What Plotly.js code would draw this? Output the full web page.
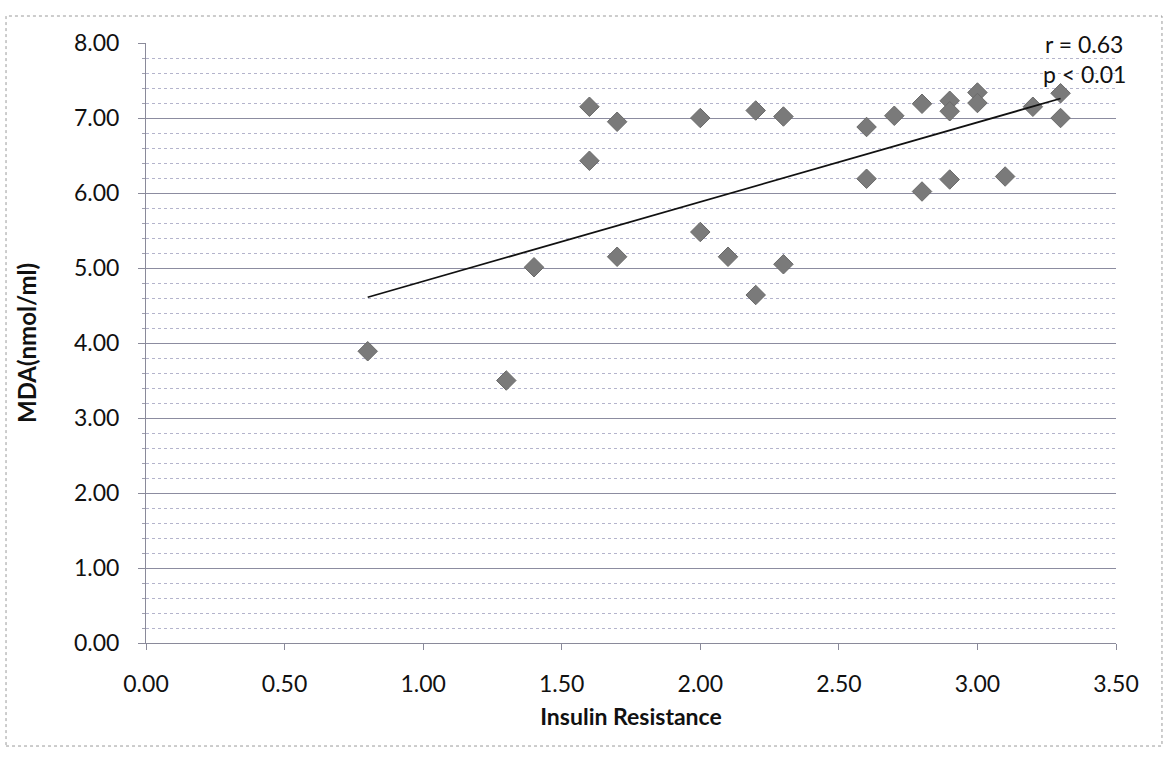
<!DOCTYPE html>
<html>
<head>
<meta charset="utf-8">
<script src="https://cdn.plot.ly/plotly-3.0.1.min.js"></script>
<style>
html,body{margin:0;padding:0;background:#fff;}
#chart{width:1166px;height:758px;}
</style>
</head>
<body>
<div id="chart"></div>
<script>
// Insulin resistance (x) vs MDA nmol/ml (y)
var insulinResistance = [0.8, 1.3, 1.4, 1.6, 1.6, 1.7, 1.7, 2.0, 2.0, 2.1, 2.2, 2.2, 2.3, 2.3,
  2.6, 2.6, 2.7, 2.8, 2.8, 2.9, 2.9, 2.9, 3.0, 3.0, 3.1, 3.2, 3.3, 3.3];
var mda = [3.89, 3.50, 5.01, 7.15, 6.43, 6.95, 5.15, 7.00, 5.48, 5.15, 7.10, 4.64, 7.02, 5.05,
  6.88, 6.19, 7.03, 7.19, 6.02, 7.23, 7.09, 6.18, 7.34, 7.20, 6.22, 7.15, 7.33, 7.00];
// Linear trendline as drawn in the picture
var trendX = [0.8, 3.3];
var trendY = [4.61, 7.26];
var xTickVals = [0, 0.5, 1, 1.5, 2, 2.5, 3, 3.5];
var xTickText = ["0.00", "0.50", "1.00", "1.50", "2.00", "2.50", "3.00", "3.50"];
var yTickVals = [0, 1, 2, 3, 4, 5, 6, 7, 8];
var yTickText = ["0.00", "1.00", "2.00", "3.00", "4.00", "5.00", "6.00", "7.00", "8.00"];
var statsText = ["r = 0.63", "p < 0.01"];

var FONT = "Lato, 'Open Sans', sans-serif";

var traces = [
  {
    x: insulinResistance, y: mda, type: "scatter", mode: "markers",
    marker: {symbol: "diamond", size: 15, color: "#7a7a7a", line: {color: "#6a6a6a", width: 1}},
    hoverinfo: "x+y", showlegend: false
  },
  {
    x: trendX, y: trendY, type: "scatter", mode: "lines",
    line: {color: "#111111", width: 1.8}, hoverinfo: "skip", showlegend: false
  }
];

var layout = {
  width: 1166, height: 758,
  margin: {l: 146, r: 50, t: 43, b: 115},
  paper_bgcolor: "#ffffff", plot_bgcolor: "#ffffff",
  font: {family: FONT, color: "#111111", size: 23},
  showlegend: false,
  xaxis: {
    range: [0, 3.5], tickvals: xTickVals, ticktext: xTickText,
    showgrid: false, zeroline: false,
    showline: true, linecolor: "#8a8a9a", linewidth: 1,
    ticks: "outside", ticklen: 6, tickcolor: "#8a8a9a",
    ticklabelstandoff: 14,
    tickfont: {family: FONT, size: 23, color: "#111111"},
    title: {text: "<b>Insulin Resistance</b>", font: {family: FONT, size: 23, color: "#111111"}, standoff: 13},
    fixedrange: true
  },
  yaxis: {
    range: [0, 8], tickvals: yTickVals, ticktext: yTickText,
    showgrid: true, gridcolor: "#8c8ca0", gridwidth: 1,
    zeroline: false,
    showline: true, linecolor: "#8a8a9a", linewidth: 1,
    ticks: "outside", ticklen: 7, tickcolor: "#8a8a9a",
    ticklabelstandoff: 14,
    minor: {dtick: 0.2, showgrid: true, gridcolor: "#b4b4cc", griddash: "dot", gridwidth: 1,
            ticks: "outside", ticklen: 3, tickcolor: "#a0a0b0"},
    tickfont: {family: FONT, size: 23, color: "#111111"},
    title: {text: "<b>MDA(nmol/ml)</b>", font: {family: FONT, size: 24, color: "#111111"}, standoff: 30},
    fixedrange: true
  },
  annotations: [
    {xref: "x", yref: "y", x: 3.385, y: 7.99, text: statsText[0], showarrow: false,
     xanchor: "center", yanchor: "middle", font: {family: FONT, size: 23, color: "#111111"}},
    {xref: "x", yref: "y", x: 3.385, y: 7.59, text: statsText[1], showarrow: false,
     xanchor: "center", yanchor: "middle", font: {family: FONT, size: 23, color: "#111111"}}
  ],
  shapes: [
    {type: "rect", xref: "paper", yref: "paper", x0: -0.1443, x1: 1.0474, y0: -0.1717, y1: 1.045,
     line: {color: "#9a9a9a", width: 1, dash: "dot"}, fillcolor: "rgba(0,0,0,0)", layer: "below"}
  ]
};

Plotly.newPlot("chart", traces, layout, {displayModeBar: false, staticPlot: true});
</script>
</body>
</html>
